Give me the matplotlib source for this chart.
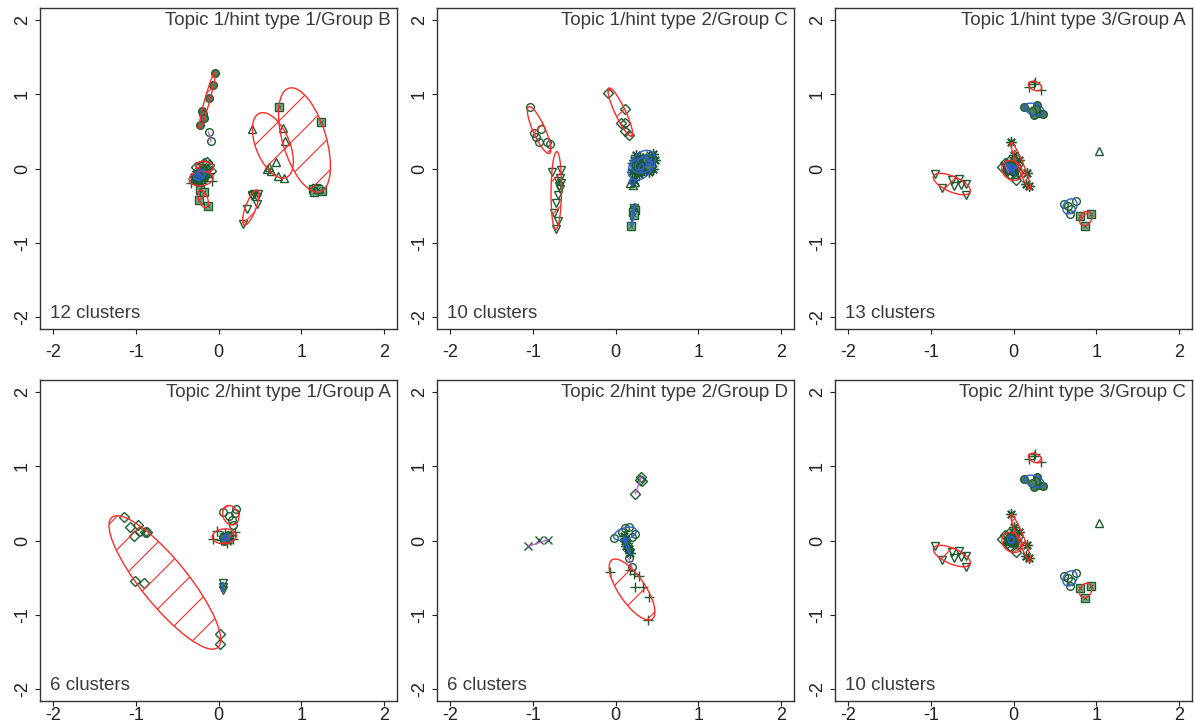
import numpy as np
import matplotlib
matplotlib.use("Agg")
import matplotlib.pyplot as plt
from matplotlib.patches import Ellipse

plt.rcParams['font.family'] = ['Liberation Sans', 'DejaVu Sans']
plt.rcParams['hatch.linewidth'] = 0.8
plt.rcParams['axes.unicode_minus'] = False

GREEN = '#1d5c30'
LIGHT = '#86b394'
RED = '#ff2a2a'
BLUE = '#2f5fd0'
MAGENTA = '#c060d0'

# ---- Topic 1 / hint type 1 / Group B ----
t1h1_title = "Topic 1/hint type 1/Group B"
t1h1_pts = [
    [(-0.04, 1.29), (-0.07, 1.13), (-0.11, 0.95), (-0.20, 0.78), (-0.19, 0.74), (-0.17, 0.68), (-0.22, 0.58)],
    [(-0.12, 0.49), (-0.09, 0.37)],
    [(-0.22, 0.03), (-0.17, 0.07), (-0.14, 0.09), (-0.11, 0.05), (-0.20, -0.01), (-0.09, -0.03), (-0.27, 0.02), (-0.14, 0.0)],
    [(-0.33, -0.20), (-0.30, -0.15), (-0.28, -0.10), (-0.26, -0.05), (-0.25, -0.12), (-0.23, -0.08), (-0.22, -0.15),
     (-0.20, -0.10), (-0.19, -0.04), (-0.18, -0.13), (-0.16, -0.08), (-0.14, -0.11), (-0.12, -0.06), (-0.08, -0.17),
     (-0.27, -0.18), (-0.21, -0.20)],
    [(-0.30, -0.12), (-0.27, -0.08), (-0.24, -0.03), (-0.22, -0.10), (-0.20, -0.06), (-0.18, -0.02), (-0.25, -0.15), (-0.17, -0.10)],
    [(-0.26, -0.06), (-0.23, -0.12), (-0.20, -0.14), (-0.21, -0.03), (-0.18, -0.07), (-0.24, -0.10)],
    [(-0.22, -0.29), (-0.18, -0.31), (-0.24, -0.42), (-0.13, -0.51)],
    [(0.41, 0.53), (0.78, 0.54), (0.81, 0.37), (0.70, 0.09), (0.59, 0.00), (0.63, -0.03), (0.61, 0.02), (0.72, -0.10), (0.79, -0.13)],
    [(0.73, 0.83), (1.24, 0.63), (1.14, -0.27), (1.18, -0.26), (1.15, -0.31), (1.25, -0.30), (1.20, -0.27)],
    [(0.30, -0.75), (0.34, -0.55), (0.40, -0.35), (0.43, -0.34), (0.47, -0.38), (0.48, -0.34), (0.47, -0.48), (0.40, -0.37)],
    [(-0.24, -0.07), (-0.21, -0.09), (-0.19, -0.12)],
    [(-0.27, -0.13), (-0.23, -0.16), (-0.25, -0.10)],
]
t1h1_pch = ['O', 'o', 'D', '+', '*', 'x', 's', '^', 's', 'v', 'S', '^']
t1h1_kind = ['sparse', 'line', 'sparse', 'sparse', 'dense', 'dense', 'sparse', 'sparse', 'sparse', 'sparse', 'dense', 'dense']

# ---- Topic 1 / hint type 2 / Group C ----
t1h2_title = "Topic 1/hint type 2/Group C"
t1h2_pts = [
    [(-1.03, 0.83), (-0.90, 0.53), (-0.99, 0.48), (-0.96, 0.43), (-0.93, 0.35), (-0.83, 0.35), (-0.79, 0.33)],
    [(-0.77, -0.05), (-0.66, -0.02), (-0.67, -0.13), (-0.66, -0.20), (-0.68, -0.24), (-0.69, -0.17), (-0.67, -0.28),
     (-0.70, -0.35), (-0.72, -0.47), (-0.74, -0.60), (-0.70, -0.71), (-0.72, -0.82)],
    [(-0.09, 1.02), (0.11, 0.80), (0.07, 0.61), (0.12, 0.61), (0.12, 0.50), (0.16, 0.45)],
    [(0.22, 0.12), (0.25, 0.18), (0.30, 0.15), (0.35, 0.10), (0.40, 0.15), (0.45, 0.20), (0.48, 0.12), (0.42, 0.05),
     (0.30, 0.02), (0.25, 0.05), (0.35, -0.02), (0.28, -0.08), (0.20, -0.05), (0.40, -0.05), (0.45, 0.00), (0.22, -0.15)],
    [(0.20, 0.08), (0.28, 0.12), (0.33, 0.04), (0.38, 0.08), (0.26, -0.02), (0.32, -0.06), (0.43, 0.10)],
    [(0.24, 0.00), (0.30, 0.08), (0.36, 0.02), (0.42, 0.18), (0.27, 0.10)],
    [(0.18, -0.20), (0.21, -0.22), (0.20, -0.14), (0.23, -0.18)],
    [(0.22, -0.53), (0.23, -0.56), (0.21, -0.59), (0.22, -0.62), (0.19, -0.78)],
    [(0.31, 0.06), (0.34, 0.00), (0.29, -0.03)],
    [(0.37, 0.13), (0.41, 0.09), (0.39, 0.04)],
]
t1h2_pch = ['o', 'v', 'D', '*', '+', 'x', '^', 's', 'S', 'O']
t1h2_kind = ['sparse', 'sparse', 'sparse', 'dense', 'dense', 'dense', 'dense', 'dense', 'dense', 'dense']

# ---- Topic 1 / hint type 3 / Group A ----
t1h3_title = "Topic 1/hint type 3/Group A"
t1h3_pts = [
    [(0.26, 1.17), (0.19, 1.10), (0.33, 1.06), (0.25, 1.14)],
    [(0.13, 0.83), (0.29, 0.86), (0.25, 0.72), (0.31, 0.75), (0.36, 0.74), (0.27, 0.80), (0.22, 0.78)],
    [(-0.03, 0.35), (0.00, 0.18), (0.07, 0.12), (0.16, -0.06), (0.15, -0.21), (0.19, -0.24)],
    [(0.03, -0.16), (-0.14, 0.02), (-0.10, 0.08), (-0.06, 0.10), (-0.02, 0.05), (0.02, 0.00), (-0.08, -0.03),
     (0.05, -0.05), (-0.04, -0.08), (0.00, 0.10), (0.06, 0.06)],
    [(-0.95, -0.08), (-0.86, -0.26), (-0.75, -0.16), (-0.72, -0.23), (-0.66, -0.14), (-0.63, -0.22), (-0.57, -0.21), (-0.57, -0.35)],
    [(1.04, 0.24)],
    [(0.61, -0.48), (0.76, -0.44), (0.70, -0.55), (0.68, -0.61), (0.66, -0.50)],
    [(0.81, -0.64), (0.94, -0.61), (0.87, -0.77)],
    [(-0.05, 0.02), (-0.02, -0.04), (0.01, 0.03)],
    [(-0.07, 0.00), (-0.03, 0.06), (0.00, -0.02)],
    [(-0.10, 0.04), (-0.06, -0.05)],
    [(-0.04, 0.00), (0.02, -0.08), (-0.08, 0.07)],
    [(-0.01, 0.02), (0.04, 0.02), (-0.03, -0.02)],
]
t1h3_pch = ['+', 'O', '*', 'D', 'v', '^', 'o', 's', 'O', 'S', 'x', '^', 'o']
t1h3_kind = ['sparse', 'dense', 'sparse', 'sparse', 'sparse', 'single', 'dense', 'sparse',
             'dense', 'dense', 'line', 'dense', 'dense']

# ---- Topic 2 / hint type 1 / Group A ----
t2h1_title = "Topic 2/hint type 1/Group A"
t2h1_pts = [
    [(-1.14, 0.31), (-1.07, 0.18), (-0.97, 0.21), (-1.02, 0.06), (-0.95, 0.13), (-0.89, 0.12), (-0.86, 0.11),
     (-1.01, -0.55), (-0.90, -0.57), (0.02, -1.26), (0.02, -1.39)],
    [(0.05, 0.39), (0.21, 0.42), (0.20, 0.37), (0.16, 0.28), (0.18, 0.21), (0.13, 0.33)],
    [(-0.07, 0.02), (-0.02, 0.13), (0.20, 0.11), (0.10, -0.04), (0.05, 0.06), (0.08, 0.10), (0.12, 0.04),
     (0.15, 0.08), (0.03, 0.01), (0.17, 0.02)],
    [(0.05, -0.57), (0.06, -0.62), (0.05, -0.67)],
    [(0.06, 0.05), (0.09, 0.02), (0.11, 0.07), (0.07, 0.00)],
    [(0.10, 0.00), (0.13, 0.03), (0.08, 0.06)],
]
t2h1_pch = ['D', 'o', '+', 'v', 'O', 'x']
t2h1_kind = ['sparse', 'sparse', 'sparse', 'dense', 'dense', 'dense']

# ---- Topic 2 / hint type 2 / Group D ----
t2h2_title = "Topic 2/hint type 2/Group D"
t2h2_pts = [
    [(-1.06, -0.08), (-0.93, 0.01), (-0.82, 0.01)],
    [(0.31, 0.85), (0.32, 0.80), (0.30, 0.82), (0.24, 0.63)],
    [(-0.02, 0.04), (0.16, 0.18), (0.24, 0.09), (0.12, 0.17), (0.20, 0.05), (0.08, 0.12)],
    [(0.10, 0.06), (0.12, 0.02), (0.14, -0.03), (0.13, -0.08), (0.16, -0.12), (0.18, -0.17), (0.15, -0.10), (0.11, 0.00)],
    [(0.16, -0.24), (0.20, -0.36)],
    [(-0.07, -0.43), (0.28, -0.48), (0.24, -0.62), (0.33, -0.62), (0.41, -0.76), (0.39, -1.07), (0.18, -0.40), (0.22, -0.45)],
]
t2h2_pch = ['x', 'D', 'o', '*', 'o', '+']
t2h2_kind = ['line', 'line', 'dense', 'dense', 'line', 'sparse']

# ---- Topic 2 / hint type 3 / Group C ----
t2h3_title = "Topic 2/hint type 3/Group C"
t2h3_pts = t1h3_pts[:8] + [
    [(-0.05, 0.02), (-0.02, -0.04), (0.01, 0.03)],
    [(-0.07, 0.00), (-0.03, 0.06), (0.00, -0.02)],
]
t2h3_pch = ['+', 'O', '*', 'D', 'v', '^', 'o', 's', 'O', 'S']
t2h3_kind = ['sparse', 'dense', 'sparse', 'sparse', 'sparse', 'single', 'dense', 'sparse', 'dense', 'dense']


MARKERS = {
    'o': dict(marker='o', ms=5.5, mfc='none'),
    'O': dict(marker='o', ms=5.5, mfc='#4b7d5a'),
    '^': dict(marker='^', ms=6.3, mfc='none'),
    'v': dict(marker='v', ms=6.3, mfc='none'),
    'D': dict(marker='D', ms=4.8, mfc='none'),
    '+': dict(marker='+', ms=7.5),
    'x': dict(marker='x', ms=5.5),
    '*': dict(marker=(8, 2, 0), ms=7.5),
    's': dict(marker='s', ms=5.5, mfc=LIGHT),
    'S': dict(marker='s', ms=5.5, mfc=GREEN),
}


def span_ellipse(pts):
    # minimum volume enclosing ellipse (Khachiyan), like ellipsoidhull in R
    P = np.asarray(pts, float)
    n, d = P.shape
    Q = np.vstack([P.T, np.ones(n)])
    u = np.full(n, 1.0 / n)
    for _ in range(3000):
        X = Q @ (u[:, None] * Q.T)
        M = np.einsum('ij,ji->i', Q.T @ np.linalg.inv(X), Q)
        j = np.argmax(M)
        step = (M[j] - d - 1) / ((d + 1) * (M[j] - 1))
        new_u = (1 - step) * u
        new_u[j] += step
        done = np.linalg.norm(new_u - u) < 1e-7
        u = new_u
        if done:
            break
    c = P.T @ u
    A = np.linalg.inv((P.T * u) @ P - np.outer(c, c)) / d
    w, V = np.linalg.eigh(A)
    semi = 1 / np.sqrt(w)
    ang = np.degrees(np.arctan2(V[1, 0], V[0, 0]))
    return c, 2 * semi[0], 2 * semi[1], ang


def draw_panel(ax, title, clusters, pch, kind, xpad):
    for pts, p in zip(clusters, pch):
        P = np.asarray(pts)
        st = MARKERS[p]
        ax.plot(P[:, 0], P[:, 1], ls='none', color=GREEN, mec=GREEN, mew=1.0, zorder=3, **st)
        if p == 's':
            ax.plot(P[:, 0], P[:, 1], ls='none', marker='x', ms=3.2, mew=0.7, color=GREEN, zorder=3)

    for pts, k in zip(clusters, kind):
        P = np.asarray(pts)
        if k == 'single':
            continue
        if k == 'line':
            dists = np.linalg.norm(P[:, None, :] - P[None, :, :], axis=2)
            i, j = np.unravel_index(np.argmax(dists), dists.shape)
            ax.plot(P[[i, j], 0], P[[i, j], 1], color=MAGENTA, lw=1.0, zorder=4)
            continue
        c, w, h, ang = span_ellipse(P)
        if k == 'sparse':
            e = Ellipse(c, w, h, angle=ang, fill=False, edgecolor=RED, lw=1.0, hatch='/', zorder=4)
        else:
            e = Ellipse(c, w, h, angle=ang, fill=False, edgecolor=BLUE, lw=1.0, zorder=4)
        ax.add_patch(e)

    ax.set_xlim(-2.16, 2.16)
    ax.set_ylim(-2.16, 2.16)
    ticks = [-2, -1, 0, 1, 2]
    ax.set_xticks(ticks)
    ax.set_yticks(ticks)
    ax.tick_params(direction='out', length=3.6, width=0.8, labelsize=13, colors='#222222')
    ax.tick_params(axis='x', pad=xpad)
    ax.tick_params(axis='y', pad=3)
    plt.setp(ax.get_yticklabels(), rotation=90, va='center')
    for s in ax.spines.values():
        s.set_color('#333333')
        s.set_linewidth(1.0)
    ax.text(0.982, 0.96, title, transform=ax.transAxes, ha='right', va='center',
            fontsize=13.5, color='#3a3a3a')
    ax.text(0.028, 0.048, f"{len(clusters)} clusters", transform=ax.transAxes, ha='left',
            va='center', fontsize=13.5, color='#3a3a3a')


W, H = 1194, 728
fig = plt.figure(figsize=(W / 100, H / 100), dpi=100)

panels = [
    (t1h1_title, t1h1_pts, t1h1_pch, t1h1_kind),
    (t1h2_title, t1h2_pts, t1h2_pch, t1h2_kind),
    (t1h3_title, t1h3_pts, t1h3_pch, t1h3_kind),
    (t2h1_title, t2h1_pts, t2h1_pch, t2h1_kind),
    (t2h2_title, t2h2_pts, t2h2_pch, t2h2_kind),
    (t2h3_title, t2h3_pts, t2h3_pch, t2h3_kind),
]
lefts = [40, 437, 835]
tops = [8, 380]
pads = [7, 1]
pw, ph = 357, 321

for i, (title, clusters, pch, kind) in enumerate(panels):
    left = lefts[i % 3]
    top = tops[i // 3]
    ax = fig.add_axes([left / W, 1 - (top + ph) / H, pw / W, ph / H])
    draw_panel(ax, title, clusters, pch, kind, pads[i // 3])

fig.savefig("out.png", dpi=100)
